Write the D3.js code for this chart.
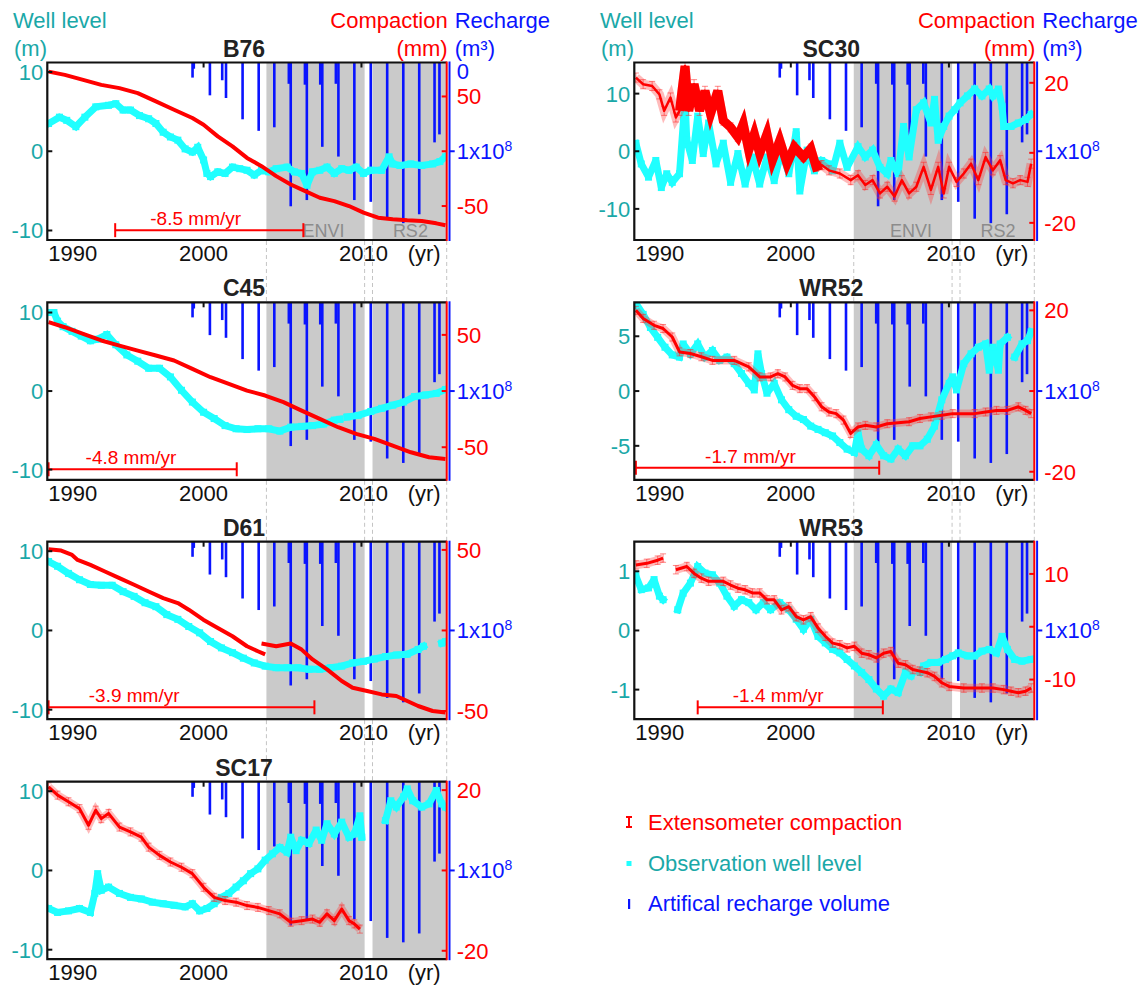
<!DOCTYPE html>
<html><head><meta charset="utf-8">
<script src="https://cdn.jsdelivr.net/npm/d3@7"></script>
<style>body{margin:0;background:#fff}svg{display:block}text{font-family:Arial,"Liberation Sans",Helvetica,sans-serif}</style>
</head><body><svg id="c" width="1140" height="987"></svg>
<script>
// ---------------- DATA ----------------
const yearTicks = [1990, 2000, 2010];
const rechargeYear = [1999.30,1999.38,2000.40,2001.18,2001.42,2002.47,2003.49,2004.48,2005.40,2005.52,2006.42,2006.54,2007.39,2007.52,2008.38,2008.54,2009.55,2010.59,2011.63,2012.65,2013.66,2014.63,2014.94];
const rechargeVol  = [0.17,0.07,0.37,0.20,0.40,0.64,0.77,0.73,0.24,1.62,0.25,1.55,0.25,0.95,0.24,1.06,1.55,1.57,1.76,1.81,1.71,0.90,0.81]; // x1e8 m3
const enviPeriod = [2003.98, 2010.2];
const rs2Period = [2010.7, 2015.4];

const b76Well = [[1990.18,3.5],[1990.87,4.3],[1991.33,3.9],[1991.91,3.1],[1992.48,4.3],[1993.17,5.6],[1993.98,5.8],[1994.44,6.0],[1994.9,5.2],[1995.37,5.2],[1995.94,4.5],[1996.52,4.1],[1996.98,3.5],[1997.44,2.4],[1997.9,1.8],[1998.37,1.4],[1998.83,0.3],[1999.29,-0.1],[1999.63,0.5],[2000.0,-1.1],[2000.21,-2.8],[2000.44,-3.2],[2000.9,-2.6],[2001.36,-2.8],[2001.83,-2.0],[2002.29,-2.2],[2002.75,-2.4],[2003.21,-3.0],[2003.67,-2.4],[2004.13,-2.6],[2004.6,-2.2],[2005.29,-2.0],[2005.75,-2.6],[2006.21,-2.8],[2006.55,-4.3],[2006.9,-2.6],[2007.36,-2.4],[2007.82,-2.0],[2008.28,-2.8],[2008.75,-2.2],[2009.21,-2.4],[2009.67,-2.0],[2010.13,-2.8],[2010.59,-2.4],[2011.28,-2.4],[2011.75,-0.7],[2011.98,-1.6],[2012.44,-1.8],[2013.13,-1.6],[2013.82,-1.8],[2014.51,-1.6],[2014.97,-1.3],[2015.32,-0.7]];
const b76Comp = [[1990.18,72.7],[1991.21,69.7],[1992.37,65.2],[1993.52,60.6],[1994.67,57.6],[1995.83,53],[1996.98,45.5],[1998.13,37.9],[1999.29,30.3],[2000.0,24.2],[2000.9,13.6],[2001.83,4.5],[2002.75,-6.1],[2003.67,-13.6],[2004.6,-22.7],[2005.52,-30.3],[2006.44,-36.4],[2007.36,-42.4],[2008.28,-45.5],[2009.21,-50],[2010.13,-56],[2011.05,-60.6],[2011.98,-62],[2012.9,-63],[2013.82,-63.6],[2014.74,-65.8],[2015.32,-67.6]];

const c45Well = [[1990.18,10],[1990.52,10],[1990.75,8.9],[1991.10,8.2],[1991.67,7.6],[1992.25,7.0],[1992.83,6.4],[1993.29,6.6],[1993.87,7.2],[1994.44,5.9],[1995.14,4.6],[1995.83,3.8],[1996.52,2.9],[1997.21,2.9],[1997.90,1.8],[1998.60,0.1],[1999.29,-1.4],[2000.0,-2.7],[2000.67,-3.5],[2001.36,-4.4],[2002.06,-4.8],[2002.75,-4.9],[2003.44,-4.8],[2004.13,-4.8],[2004.83,-5.1],[2005.52,-4.6],[2006.21,-4.5],[2006.90,-4.4],[2007.59,-4.2],[2008.28,-3.7],[2008.63,-3.6],null,[2009.09,-3.3],[2009.79,-3.1],[2010.59,-2.6],[2011.28,-2.2],[2011.98,-1.8],[2012.67,-1.4],[2013.36,-0.7],[2014.05,-0.5],[2014.74,-0.3],[2015.32,0.2]];
const c45Comp = [[1990.18,61.3],[1991.21,56.8],[1992.37,50.9],[1993.52,45],[1994.67,40.5],[1995.83,36],[1996.98,31.6],[1998.13,27.2],[1999.29,19.7],[2000.44,12.3],[2001.60,6.4],[2002.75,0.4],[2003.90,-4],[2005.06,-9.9],[2006.21,-17.4],[2007.36,-24.8],[2008.52,-32.2],[2009.67,-38.1],[2010.82,-42.6],[2011.98,-48.5],[2013.13,-54.5],[2014.28,-58.9],[2015.32,-60.4]];

const d61Well = [[1990.18,8.7],[1990.75,8.1],[1991.44,7.2],[1992.14,6.4],[1992.83,5.8],[1993.52,5.7],[1994.21,5.7],[1994.90,4.9],[1995.60,4.3],[1996.29,3.5],[1996.98,3.0],[1997.67,2.0],[1998.37,1.4],[1999.06,0.5],[1999.75,-0.3],[2000.44,-1.4],[2001.13,-2.2],[2001.83,-2.8],[2002.52,-3.5],[2003.21,-4.1],[2003.90,-4.5],[2004.60,-4.7],[2005.29,-4.7],[2005.98,-4.7],[2006.67,-4.9],[2007.36,-4.9],[2008.05,-4.7],[2008.75,-4.5],[2009.44,-4.1],[2010.13,-3.9],[2010.82,-3.6],[2011.52,-3.3],[2012.21,-3.1],[2012.90,-3.0],[2013.59,-2.4],[2013.93,-2.0],null,[2015.09,-1.6],[2015.32,-1.4]];
const d61Comp = [[1990.18,50.4],[1990.98,49.6],[1991.67,46.9],[1992.02,43.8],[1992.83,40.7],[1993.75,36.6],[1994.67,32.5],[1995.60,28.4],[1996.52,24.2],[1997.44,20.1],[1998.37,17],[1999.06,12.9],[1999.98,6.7],[2000.90,1.5],[2001.83,-3.6],[2002.75,-9.8],[2003.44,-12.9],[2003.90,-14.9],null,[2003.67,-8.1],[2004.60,-9.8],[2005.52,-8.1],[2006.21,-11.9],[2006.90,-18],[2007.82,-24.2],[2008.75,-31.4],[2009.44,-35.6],[2010.36,-37.6],[2011.28,-39.7],[2012.21,-40.7],[2012.90,-43.8],[2013.59,-46.9],[2014.51,-50],[2015.32,-51]];

const sc17Well = [[1990.18,-4.8],[1990.75,-5.3],[1991.44,-5.1],[1992.14,-4.8],[1992.83,-5.3],[1993.11,-2.9],[1993.29,-0.4],[1993.52,-2.5],[1993.98,-2.1],[1994.67,-2.9],[1995.37,-3.4],[1996.06,-3.6],[1996.75,-4.0],[1997.44,-4.2],[1998.13,-4.4],[1998.83,-4.6],[1999.29,-4.2],[1999.75,-5.1],[2000.21,-4.8],[2000.67,-4.2],[2001.13,-3.4],[2001.60,-2.9],[2002.06,-2.1],[2002.52,-1.3],[2002.98,-0.4],[2003.44,0.2],[2003.90,1.3],[2004.36,2.1],[2004.83,2.9],[2005.29,2.3],[2005.52,4.2],[2005.86,2.5],[2006.21,3.8],[2006.67,3.4],[2007.13,5.1],[2007.48,3.8],[2007.82,5.9],[2008.28,4.6],[2008.75,6.1],[2009.21,4.2],[2009.55,4.6],[2009.90,6.9],[2010.02,4.2],null,[2011.52,6.3],[2011.86,8.8],[2012.21,8.0],[2012.67,9.3],[2012.90,10.3],[2013.25,8.8],[2013.82,8.0],[2014.28,8.4],[2014.74,10.1],[2015.09,8.4],[2015.32,8.0]];
const sc17Comp = [[1990.18,20.8],[1990.75,18.75],[1991.44,17.1],[1992.14,15.4],[1992.71,11.25],[1993.17,15],[1993.52,12.9],[1993.98,14.2],[1994.67,10.8],[1995.37,9.6],[1996.06,8.3],[1996.52,5.8],[1997.21,3.75],[1997.90,2.1],[1998.60,0.8],[1999.29,-0.8],[2000.0,-4.2],[2000.67,-6.7],[2001.36,-7.5],[2002.06,-7.9],[2002.75,-8.75],[2003.44,-9.2],[2004.13,-10],[2004.83,-10.8],[2005.52,-12.9],[2006.21,-12.5],[2006.90,-12.1],[2007.36,-12.9],[2007.82,-10.8],[2008.28,-12.5],[2008.75,-9.6],[2009.21,-12.5],[2009.55,-13.3],[2009.90,-14.6]];

const sc30Well = [[1990.20,1.35],[1990.54,-2.2],[1991.00,-4.5],[1991.46,-1.6],[1991.81,-6.3],[1992.15,-3.9],[1992.50,-5.4],[1992.96,-3.9],[1993.31,9.0],[1993.42,1.9],[1993.77,-1.6],[1994.11,6.1],[1994.46,-0.4],[1994.80,4.9],[1995.27,-2.2],[1995.73,1.4],[1996.19,-5.4],[1996.65,-0.4],[1997.11,-5.7],[1997.57,-1.0],[1998.03,-5.7],[1998.49,-1.0],[1998.95,-5.1],[1999.41,0.2],[1999.87,-3.9],[2000.34,3.4],[2000.57,-6.9],[2001.03,0.2],[2001.49,-3.4],[2001.95,-1.6],[2002.41,-2.2],[2002.64,-3.4],[2003.10,1.4],[2003.56,-2.8],[2004.25,0.8],[2004.71,-1.0],[2005.17,0.2],[2005.64,-2.8],[2006.10,-3.9],[2006.33,-1.6],[2006.79,-3.9],[2007.13,4.3],[2007.48,-1.0],[2007.94,7.2],[2008.40,8.4],[2008.86,4.9],[2009.09,9.0],[2009.32,1.9],[2009.67,4.3],[2010.01,6.1],[2010.36,7.2],[2010.70,8.4],[2011.17,9.6],[2011.63,10.8],[2012.09,9.6],[2012.55,10.8],[2012.78,9.6],[2013.13,10.8],[2013.36,7.8],[2013.47,4.3],[2013.93,4.3],[2014.39,4.9],[2014.85,5.5],[2015.20,6.4]];
const sc30Comp = [[1990.20,21.5],[1990.66,19.6],[1991.23,19.1],[1991.69,16.7],[1991.99,12.0],[1992.39,15.8],[1992.73,10.1],[1992.96,12],[1993.31,24.8],[1993.54,12],[1993.88,19.6],[1994.23,12],[1994.57,17.7],[1994.92,11.1],[1995.38,17.7],[1995.73,9.2],[1996.19,7.3],[1996.65,4.5],[1996.99,8.3],[1997.34,0.7],[1997.69,5.4],[1998.03,-0.2],[1998.49,5.4],[1998.84,-2.1],[1999.30,3.5],[1999.76,-3.1],[2000.22,1.7],[2000.80,-1.2],[2001.26,1.2],[2001.60,-4.0],[2001.95,-3.5],[2002.41,-5.0],[2003.10,-5.9],[2003.79,-7.8],[2004.25,-6.4],[2004.71,-9.2],[2005.17,-7.8],[2005.64,-11.6],[2006.10,-9.7],[2006.56,-12.5],[2007.02,-7.8],[2007.48,-11.6],[2007.94,-9.7],[2008.40,-4.0],[2008.86,-10.6],[2009.32,-4.0],[2009.67,-11.6],[2010.01,-4.0],[2010.48,-8.3],[2010.94,-5.9],[2011.40,-3.1],[2011.86,-7.8],[2012.32,-1.2],[2012.78,-5.0],[2013.24,-2.1],[2013.59,-7.8],[2014.05,-8.7],[2014.51,-7.8],[2014.97,-8.3],[2015.20,-3.1]];

const wr52Well = [[1990.20,8.0],[1990.66,7.0],[1991.12,5.8],[1991.58,4.9],[1992.04,4.0],[1992.50,3.3],[1992.96,3.1],[1993.19,4.3],[1993.65,3.4],[1994.11,4.3],[1994.57,3.1],[1995.04,3.7],[1995.50,2.8],[1995.96,3.1],[1996.42,2.5],[1996.88,1.6],[1997.34,0.7],[1997.69,0.1],[1997.92,3.4],[1998.15,1.6],[1998.49,-0.2],[1998.95,0.7],[1999.41,-0.8],[1999.87,-1.7],[2000.34,-2.3],[2000.80,-2.6],[2001.26,-3.2],[2001.72,-3.5],[2002.18,-3.8],[2002.64,-4.1],[2003.10,-4.7],[2003.56,-5.3],[2004.02,-5.6],[2004.25,-3.8],[2004.48,-5.3],[2004.94,-5.9],[2005.41,-4.9],[2005.87,-5.9],[2006.33,-6.2],[2006.79,-5.3],[2007.25,-5.9],[2007.71,-5.0],[2008.17,-5.0],[2008.63,-4.4],[2009.09,-3.2],[2009.55,-0.8],[2010.01,0.7],[2010.24,1.3],[2010.48,0.1],[2010.94,2.5],[2011.40,3.4],[2011.86,4.0],[2012.32,4.3],[2012.55,1.9],[2012.78,4.0],[2013.13,1.9],[2013.24,4.3],[2013.70,4.9],null,[2014.16,3.1],[2014.62,4.3],[2014.97,4.6],[2015.20,5.4]];
const wr52Comp = [[1990.20,20.0],[1990.66,18.0],[1991.35,16.3],[1991.92,15.5],[1992.50,13.4],[1992.96,9.7],[1993.65,9.3],[1994.34,8.5],[1995.04,7.6],[1996.42,7.6],[1997.34,6.0],[1998.03,3.5],[1998.72,3.5],[1999.18,4.3],[1999.64,3.5],[2000.11,1.4],[2000.57,0.6],[2001.03,0.6],[2001.49,-1.4],[2001.95,-3.9],[2002.41,-5.2],[2002.87,-5.6],[2003.33,-7.2],[2003.79,-10.5],[2004.25,-8.9],[2004.71,-8.5],[2005.41,-8.9],[2006.10,-8.1],[2007.48,-7.6],[2008.17,-6.8],[2008.86,-6.4],[2009.55,-6.0],[2010.24,-5.6],[2011.63,-5.6],[2012.32,-5.2],[2013.01,-4.8],[2013.70,-4.8],[2014.39,-3.9],[2014.85,-4.8],[2015.20,-5.6]];

const wr53Well = [[1990.20,0.92],[1990.54,0.69],[1991.00,0.72],[1991.35,0.86],[1991.69,0.58],[1991.92,0.52],null,[1992.85,0.35],[1993.19,0.63],[1993.65,0.8],[1994.11,1.08],[1994.57,0.97],[1995.04,0.94],[1995.50,0.8],[1995.96,0.58],[1996.42,0.41],[1996.88,0.52],[1997.34,0.47],[1997.80,0.35],[1998.26,0.47],[1998.72,0.35],[1999.30,0.47],[1999.87,0.35],[2000.34,0.19],[2000.80,0.02],[2001.26,0.19],[2001.72,-0.1],[2002.18,-0.21],[2002.64,-0.32],[2003.10,-0.38],[2003.56,-0.49],[2004.02,-0.6],[2004.48,-0.71],[2004.94,-0.83],[2005.41,-0.99],[2005.87,-1.11],[2006.33,-0.99],[2006.79,-1.05],[2007.25,-0.71],[2007.60,-0.77],null,[2008.17,-0.71],[2008.40,-0.6],[2008.86,-0.54],[2009.32,-0.54],[2009.78,-0.49],[2010.24,-0.43],[2010.59,-0.38],[2011.17,-0.43],[2011.63,-0.43],[2012.09,-0.35],[2012.55,-0.32],[2013.01,-0.38],[2013.36,-0.1],[2013.70,-0.32],[2014.16,-0.49],[2014.62,-0.52],[2015.20,-0.49]];
const wr53Comp = [[1990.20,11.7],[1990.89,12.0],[1991.58,12.6],[1991.92,13.0],null,[1992.73,10.8],[1993.42,11.4],[1993.88,10.1],[1994.34,9.2],[1994.80,8.6],[1995.73,8.6],[1996.19,7.9],[1996.65,7.3],[1997.11,7.0],[1997.57,6.4],[1998.03,6.4],[1998.49,5.1],[1998.95,5.1],[1999.41,3.2],[1999.87,3.8],[2000.34,1.9],[2000.80,1.3],[2001.26,1.9],[2001.72,-0.25],[2002.18,-1.8],[2002.64,-3.1],[2003.10,-3.4],[2003.56,-4.0],[2004.02,-3.7],[2004.48,-5.0],[2004.94,-5.3],[2005.41,-5.9],[2005.87,-5.0],[2006.33,-4.7],[2006.79,-6.9],[2007.25,-7.2],[2007.71,-8.1],[2008.17,-8.4],[2008.63,-8.7],[2009.09,-9.4],[2009.55,-10.6],[2010.01,-11.3],[2010.94,-11.6],[2012.09,-11.6],[2012.78,-11.6],[2013.47,-11.9],[2013.93,-12.2],[2014.39,-12.5],[2014.85,-12.2],[2015.20,-11.6]];

// ---------------- LAYOUT ----------------
const C_RED = "#ff0000", C_BLUE = "#0a14ff", C_CYAN = "#20ffff", C_TEAL = "#1aa8a8";
const cols = [{L:47.3, R:446.7}, {L:634.3, R:1034.3}];
const rowTop = [62.5, 302.3, 541.7, 781.7], H = 177.5;
const YEAR0 = 1990.1, YEAR1 = 2015.4;

const panels = [
 {name:"B76", col:0,row:0, well:b76Well, comp:b76Comp, wellDom:[-11.2,11.2], compDom:[-81,81], wellTicks:[10,0,-10], compTicks:[50,-50], zero:true, err:0, compW:4, sat:true,
  trend:{from:1994.4,to:2006.32,at:-9.96,label:"-8.5 mm/yr",labelAt:1999.5}},
 {name:"C45", col:0,row:1, well:c45Well, comp:c45Comp, wellDom:[-11.3,11.3], compDom:[-79,79], wellTicks:[10,0,-10], compTicks:[50,-50], err:0, compW:4,
  trend:{from:1990.18,to:2002.1,at:-9.96,label:"-4.8 mm/yr",labelAt:1995.4}},
 {name:"D61", col:0,row:2, well:d61Well, comp:d61Comp, wellDom:[-11.2,11.2], compDom:[-55.1,55.1], wellTicks:[10,0,-10], compTicks:[50,-50], err:0, compW:4,
  trend:{from:1990.18,to:2007.02,at:-9.7,label:"-3.9 mm/yr",labelAt:1995.6}},
 {name:"SC17", col:0,row:3, well:sc17Well, comp:sc17Comp, wellDom:[-11.2,11.2], compDom:[-22.1,22.1], wellTicks:[10,0,-10], compTicks:[20,-20], err:1.0, compW:3},
 {name:"SC30", col:1,row:0, well:sc30Well, comp:sc30Comp, wellDom:[-15.4,15.4], compDom:[-24.9,25.8], wellTicks:[10,0,-10], compTicks:[20,-20], err:1.3, compW:2.5, thick:[1992.9,2002.2], sat:true},
 {name:"WR52", col:1,row:1, well:wr52Well, comp:wr52Comp, wellDom:[-8.1,8.1], compDom:[-22,22], wellTicks:[5,0,-5], compTicks:[20,-20], err:1.0, compW:3,
  trend:{from:1990.2,to:2005.59,at:-7.0,label:"-1.7 mm/yr",labelAt:1997.45}},
 {name:"WR53", col:1,row:2, well:wr53Well, comp:wr53Comp, wellDom:[-1.5,1.5], compDom:[-17.5,16.1], wellTicks:[1,0,-1], compTicks:[10,-10], err:0.8, compW:3,
  trend:{from:1994.11,to:2005.82,at:-1.3,label:"-1.4 mm/yr",labelAt:1999.2}}
];

const svg = d3.select("#c");
const defs = svg.append("defs");
const FS = 22;

function drawPanel(p, i){
  const c = cols[p.col], T = rowTop[p.row], B = T + H;
  const x = d3.scaleLinear([YEAR0, YEAR1], [c.L, c.R]);
  const yW = d3.scaleLinear(p.wellDom, [B, T]);
  const yC = d3.scaleLinear(p.compDom, [B, T]);
  const yR = d3.scaleLinear([0, 2], [T, yW(0) + (yW(0) - T)]);
  const g = svg.append("g");
  defs.append("clipPath").attr("id","clip"+i).append("rect").attr("x",c.L).attr("y",T).attr("width",c.R-c.L).attr("height",H);
  const cg = g.append("g").attr("clip-path",`url(#clip${i})`);

  // satellite periods
  [enviPeriod, rs2Period].forEach(pr=>{
    cg.append("rect").attr("x",x(pr[0])).attr("y",T).attr("width",x(pr[1])-x(pr[0])).attr("height",H).attr("fill","#cacaca");
  });
  if(p.sat){
    g.append("text").attr("x",x(2007.6)).attr("y",B-3).attr("text-anchor","middle").attr("font-size",18).attr("fill","#8c8c8c").text("ENVI");
    g.append("text").attr("x",x(2013.1)).attr("y",B-3).attr("text-anchor","middle").attr("font-size",18).attr("fill","#8c8c8c").text("RS2");
  }
  // recharge bars
  cg.selectAll(".bar").data(rechargeYear.map((yr,k)=>[yr,rechargeVol[k]])).enter().append("rect")
    .attr("x",d=>x(d[0])-1.3).attr("y",T).attr("width",2.6).attr("height",d=>yR(d[1])-T).attr("fill",C_BLUE);

  // well level
  const line = d3.line().defined(d=>d!=null).x(d=>x(d[0]));
  cg.append("path").attr("d",line.y(d=>yW(d[1]))(p.well)).attr("fill","none").attr("stroke",C_CYAN)
    .attr("stroke-width",7).attr("stroke-linejoin","miter").attr("stroke-miterlimit",2).attr("stroke-linecap","square");
  cg.selectAll(".sq").data(p.well.filter(d=>d)).enter().append("rect")
    .attr("x",d=>x(d[0])-3.5).attr("y",d=>yW(d[1])-3.5).attr("width",7).attr("height",7).attr("fill",C_CYAN);

  // compaction
  const lineC = d3.line().defined(d=>d!=null).x(d=>x(d[0])).y(d=>yC(d[1]));
  if(p.err>0){
    const pts = p.comp.filter(d=>d);
    cg.append("path").attr("d",lineC(p.comp)).attr("fill","none").attr("stroke","rgba(255,60,60,0.35)").attr("stroke-width",Math.abs(yC(0)-yC(p.err))*2);
    const eb = cg.append("g").attr("stroke","rgba(255,40,40,0.55)").attr("stroke-width",1);
    pts.forEach(d=>{
      const xx = x(d[0]), y1 = yC(d[1]-p.err), y2 = yC(d[1]+p.err);
      eb.append("line").attr("x1",xx).attr("x2",xx).attr("y1",y1).attr("y2",y2);
      eb.append("line").attr("x1",xx-3).attr("x2",xx+3).attr("y1",y1).attr("y2",y1);
      eb.append("line").attr("x1",xx-3).attr("x2",xx+3).attr("y1",y2).attr("y2",y2);
    });
  }
  cg.append("path").attr("d",lineC(p.comp)).attr("fill","none").attr("stroke",C_RED).attr("stroke-width",p.compW).attr("stroke-linejoin","round");
  if(p.thick){
    const seg = p.comp.filter(d=>d && d[0]>=p.thick[0] && d[0]<=p.thick[1]);
    cg.append("path").attr("d",lineC(seg)).attr("fill","none").attr("stroke",C_RED).attr("stroke-width",9).attr("stroke-linejoin","miter");
  }

  // trend annotation
  if(p.trend){
    const t = p.trend, ty = yW(t.at);
    g.append("line").attr("x1",x(t.from)).attr("x2",x(t.to)).attr("y1",ty).attr("y2",ty).attr("stroke",C_RED).attr("stroke-width",2);
    [t.from,t.to].forEach(v=>g.append("line").attr("x1",x(v)).attr("x2",x(v)).attr("y1",ty-7).attr("y2",ty+7).attr("stroke",C_RED).attr("stroke-width",2));
    g.append("text").attr("x",x(t.labelAt)).attr("y",ty-5).attr("text-anchor","middle").attr("font-size",19).attr("fill",C_RED).text(t.label);
  }

  // frame
  g.append("path").attr("d",`M${c.R},${T}H${c.L}V${B}H${c.R}`).attr("fill","none").attr("stroke","#111").attr("stroke-width",2.2);
  g.append("line").attr("x1",c.R).attr("x2",c.R).attr("y1",T-1).attr("y2",B+1).attr("stroke",C_RED).attr("stroke-width",2);
  g.append("line").attr("x1",c.R+2.8).attr("x2",c.R+2.8).attr("y1",T-1).attr("y2",B+1).attr("stroke",C_BLUE).attr("stroke-width",2);

  // x ticks (top, inward)
  yearTicks.filter(v=>v>YEAR0).forEach(v=>{
    g.append("line").attr("x1",x(v)).attr("x2",x(v)).attr("y1",T).attr("y2",T+5).attr("stroke","#111").attr("stroke-width",2);
  });
  // x labels
  const yl = B + 21;
  g.append("text").attr("x",c.L+1).attr("y",yl).attr("font-size",FS).attr("fill","#111").text(yearTicks[0]);
  g.append("text").attr("x",x(yearTicks[1])).attr("y",yl).attr("text-anchor","middle").attr("font-size",FS).attr("fill","#111").text(yearTicks[1]);
  g.append("text").attr("x",x(yearTicks[2])+2).attr("y",yl).attr("text-anchor","middle").attr("font-size",FS).attr("fill","#111").text(yearTicks[2]);
  g.append("text").attr("x",c.R-6).attr("y",yl).attr("text-anchor","end").attr("font-size",FS).attr("fill","#111").text("(yr)");

  // left well axis
  p.wellTicks.forEach(v=>{
    g.append("line").attr("x1",c.L).attr("x2",c.L+5).attr("y1",yW(v)).attr("y2",yW(v)).attr("stroke","#111").attr("stroke-width",2);
    g.append("text").attr("x",c.L-4).attr("y",yW(v)).attr("dy","0.36em").attr("text-anchor","end").attr("font-size",FS).attr("fill",C_TEAL).text(v);
  });
  // right compaction axis
  [...p.compTicks, 0].forEach(v=>{
    g.append("line").attr("x1",c.R-5).attr("x2",c.R).attr("y1",yC(v)).attr("y2",yC(v)).attr("stroke",C_RED).attr("stroke-width",2);
  });
  p.compTicks.forEach(v=>{
    g.append("text").attr("x",c.R+10).attr("y",yC(v)).attr("dy","0.36em").attr("font-size",FS).attr("fill",C_RED).text(v);
  });
  // recharge axis
  g.append("line").attr("x1",c.R+2.8).attr("x2",c.R+8).attr("y1",yR(1)).attr("y2",yR(1)).attr("stroke",C_BLUE).attr("stroke-width",2);
  const rt = g.append("text").attr("x",c.R+10).attr("y",yR(1)).attr("dy","0.36em").attr("font-size",FS).attr("fill",C_BLUE);
  rt.append("tspan").text("1x10");
  rt.append("tspan").attr("font-size",14).attr("dy","-0.6em").text("8");
  if(p.zero){
    g.append("text").attr("x",c.R+10).attr("y",T+9).attr("dy","0.36em").attr("font-size",FS).attr("fill",C_BLUE).text("0");
  }
  // title
  g.append("text").attr("x",(c.L+c.R)/2-3).attr("y",T-6).attr("text-anchor","middle").attr("font-size",23).attr("font-weight","bold").attr("fill","#222").text(p.name);

  // header (first row)
  if(p.row===0){
    const hx = p.col===0 ? 13 : 600;
    g.append("text").attr("x",hx).attr("y",28).attr("font-size",FS).attr("fill",C_TEAL).text("Well level");
    g.append("text").attr("x",hx+1).attr("y",56).attr("font-size",FS).attr("fill",C_TEAL).text("(m)");
    g.append("text").attr("x",c.R+1).attr("y",28).attr("text-anchor","end").attr("font-size",FS).attr("fill",C_RED).text("Compaction");
    g.append("text").attr("x",c.R+1).attr("y",56).attr("text-anchor","end").attr("font-size",FS).attr("fill",C_RED).text("(mm)");
    g.append("text").attr("x",c.R+8).attr("y",28).attr("font-size",FS).attr("fill",C_BLUE).text("Recharge");
    g.append("text").attr("x",c.R+8).attr("y",56).attr("font-size",FS).attr("fill",C_BLUE).text("(m³)");
  }
  return {x, T, B, c};
}

const drawn = panels.map(drawPanel);

// dashed connectors between stacked panels
[0,1].forEach(col=>{
  const ps = drawn.filter((d,k)=>panels[k].col===col);
  for(let k=0;k<ps.length-1;k++){
    const a = ps[k], b = ps[k+1];
    [enviPeriod[0], enviPeriod[1], rs2Period[0], YEAR1].forEach(v=>{
      svg.insert("line",":first-child").attr("x1",a.x(v)).attr("x2",a.x(v)).attr("y1",a.B+1).attr("y2",b.T-1)
        .attr("stroke","#c4c4c4").attr("stroke-width",1).attr("stroke-dasharray","4,3");
    });
  }
});

// legend
const lg = svg.append("g");
const lx = 629;
lg.append("line").attr("x1",lx).attr("x2",lx).attr("y1",817).attr("y2",827).attr("stroke",C_RED).attr("stroke-width",2);
lg.append("line").attr("x1",lx-3).attr("x2",lx+3).attr("y1",817).attr("y2",817).attr("stroke",C_RED).attr("stroke-width",2);
lg.append("line").attr("x1",lx-3).attr("x2",lx+3).attr("y1",827).attr("y2",827).attr("stroke",C_RED).attr("stroke-width",2);
lg.append("text").attr("x",648).attr("y",822).attr("dy","0.36em").attr("font-size",FS).attr("fill",C_RED).text("Extensometer compaction");
lg.append("rect").attr("x",lx-2.5).attr("y",861).attr("width",5).attr("height",5).attr("fill",C_CYAN);
lg.append("text").attr("x",648).attr("y",863).attr("dy","0.36em").attr("font-size",FS).attr("fill",C_TEAL).text("Observation well level");
lg.append("rect").attr("x",lx-1).attr("y",899).attr("width",2.2).attr("height",10).attr("fill",C_BLUE);
lg.append("text").attr("x",648).attr("y",903).attr("dy","0.36em").attr("font-size",FS).attr("fill",C_BLUE).text("Artifical recharge volume");
</script></body></html>
